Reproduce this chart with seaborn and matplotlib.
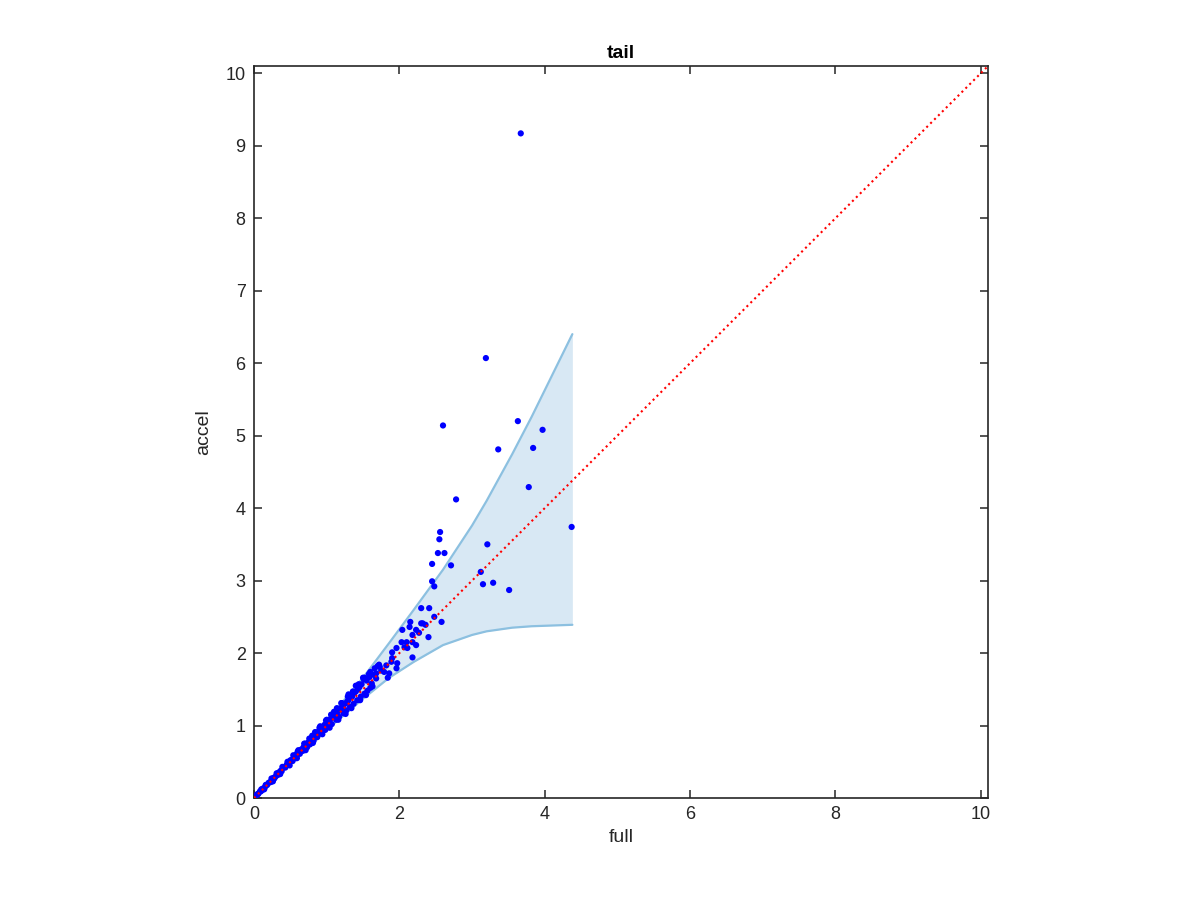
import matplotlib
matplotlib.use("Agg")
import matplotlib.pyplot as plt
import seaborn as sns
import pandas as pd

# Band (fill)
band_full = [0, 0.5, 1.0, 1.5, 1.86, 2.2, 2.6, 3.0, 3.2, 3.55, 3.82, 4.1, 4.38]
band_upper = [0, 0.53, 1.07, 1.66, 2.14, 2.6, 3.15, 3.76, 4.1, 4.74, 5.26, 5.83, 6.4]
band_lower = [0, 0.48, 0.94, 1.37, 1.66, 1.88, 2.11, 2.25, 2.3, 2.35, 2.37, 2.38, 2.39]

# Dense cluster near the diagonal
core_full = [0.02, 0.04, 0.06, 0.08, 0.10, 0.12, 0.15, 0.17, 0.20, 0.22, 0.25, 0.27, 0.30, 0.32, 0.35,
             0.37, 0.40, 0.42, 0.45, 0.48, 0.50, 0.52, 0.55, 0.58, 0.60, 0.62, 0.65, 0.68, 0.70, 0.72,
             0.75, 0.78, 0.80, 0.83, 0.85, 0.88, 0.90, 0.92, 0.95, 0.97, 1.00, 1.02, 1.05, 1.08, 1.10,
             1.12, 1.15, 1.18, 1.20, 1.22, 1.25, 1.28, 1.30, 1.33, 1.35, 1.38, 1.40, 1.43, 1.45, 1.48,
             0.05, 0.09, 0.13, 0.18, 0.23, 0.28, 0.33, 0.38, 0.43, 0.47, 0.53, 0.57, 0.63, 0.67, 0.73,
             0.77, 0.82, 0.87, 0.93, 0.98, 1.03, 1.07, 1.13, 1.17, 1.23, 1.27, 1.32, 1.37, 1.42, 1.47,
             1.52, 1.56, 1.60, 1.63,
             0.60, 0.70, 0.80, 0.90, 1.00, 1.10, 1.20, 1.30, 1.40, 1.50, 1.55, 1.60, 1.65, 1.70, 1.75,
             0.10, 0.16, 0.24, 0.31, 0.39, 0.46, 0.54, 0.61, 0.69, 0.76, 0.84, 0.91, 0.99, 1.06, 1.14,
             1.21, 1.29, 1.36, 1.44, 1.51, 1.58, 1.62, 1.68, 1.72,
             0.14, 0.26, 0.36, 0.49, 0.59, 0.71, 0.81, 0.94, 1.04, 1.16, 1.26, 1.34, 1.46, 1.54]
core_accel = [0.02, 0.05, 0.06, 0.09, 0.10, 0.13, 0.15, 0.18, 0.21, 0.22, 0.26, 0.28, 0.30, 0.34, 0.36,
              0.38, 0.42, 0.43, 0.46, 0.50, 0.52, 0.53, 0.57, 0.60, 0.61, 0.64, 0.67, 0.70, 0.71, 0.75,
              0.77, 0.80, 0.83, 0.85, 0.87, 0.91, 0.93, 0.95, 0.98, 1.01, 1.03, 1.05, 1.09, 1.12, 1.13,
              1.17, 1.19, 1.23, 1.24, 1.27, 1.30, 1.33, 1.35, 1.39, 1.40, 1.45, 1.47, 1.50, 1.53, 1.57,
              0.05, 0.09, 0.12, 0.18, 0.22, 0.27, 0.32, 0.37, 0.42, 0.46, 0.51, 0.55, 0.61, 0.65, 0.70,
              0.74, 0.79, 0.84, 0.89, 0.94, 0.99, 1.02, 1.08, 1.12, 1.17, 1.21, 1.26, 1.30, 1.35, 1.40,
              1.44, 1.48, 1.52, 1.54,
              0.64, 0.75, 0.86, 0.97, 1.08, 1.19, 1.31, 1.43, 1.55, 1.66, 1.62, 1.74, 1.70, 1.82, 1.76,
              0.12, 0.18, 0.27, 0.34, 0.43, 0.50, 0.59, 0.66, 0.75, 0.82, 0.91, 0.99, 1.07, 1.15, 1.24,
              1.31, 1.40, 1.47, 1.57, 1.64, 1.71, 1.58, 1.65, 1.84,
              0.12, 0.23, 0.33, 0.45, 0.55, 0.66, 0.76, 0.88, 0.97, 1.08, 1.16, 1.24, 1.35, 1.42]

# Spread-out points and outliers
outer_full = [1.59, 1.52, 1.84, 1.68, 1.86, 1.96, 1.79, 1.73, 1.66, 1.82, 1.97, 1.89, 1.90, 2.18,
              1.90, 2.11, 2.07, 1.96, 2.23, 2.18, 2.10, 2.03, 2.40, 2.18, 2.27, 2.04, 2.23, 2.32,
              2.14, 2.15, 2.58, 2.36, 2.30, 2.48, 2.41, 2.30, 2.48, 2.45, 3.51, 3.29, 3.15, 3.12,
              2.71, 2.45, 3.21, 2.62, 2.53, 2.55, 2.56, 4.37, 2.78, 3.78, 3.84, 3.36, 3.97, 3.63,
              2.60, 3.19, 3.67]
outer_accel = [1.67, 1.66, 1.66, 1.72, 1.72, 1.79, 1.74, 1.81, 1.79, 1.83, 1.86, 1.88, 1.93, 1.94,
               2.01, 2.07, 2.08, 2.07, 2.11, 2.15, 2.15, 2.15, 2.22, 2.25, 2.28, 2.32, 2.32, 2.41,
               2.36, 2.43, 2.43, 2.39, 2.41, 2.50, 2.62, 2.62, 2.92, 2.99, 2.87, 2.97, 2.95, 3.12,
               3.21, 3.23, 3.50, 3.38, 3.38, 3.57, 3.67, 3.74, 4.12, 4.29, 4.83, 4.81, 5.08, 5.20,
               5.14, 6.07, 9.17]

diag = [0, 10.1]

df = pd.DataFrame({"full": core_full + outer_full, "accel": core_accel + outer_accel})
band = pd.DataFrame({"full": band_full, "upper": band_upper, "lower": band_lower})
line = pd.DataFrame({"full": diag, "accel": diag})

sns.set_style("ticks")
plt.rcParams["font.family"] = ["Liberation Sans", "DejaVu Sans"]
plt.rcParams["xtick.direction"] = "in"
plt.rcParams["ytick.direction"] = "in"

fig = plt.figure(figsize=(12, 9), dpi=100)
ax = fig.add_axes([0.2117, 0.1133, 0.6117, 0.8134])

band_edge = "#8cc0e0"
ax.fill_between(band["full"], band["lower"], band["upper"], color="#d8e8f4", lw=0, zorder=1)
sns.lineplot(data=band, x="full", y="upper", color=band_edge, lw=1.6, ax=ax, zorder=2)
sns.lineplot(data=band, x="full", y="lower", color=band_edge, lw=1.6, ax=ax, zorder=2)

sns.scatterplot(data=df, x="full", y="accel", color="#0000ff", s=20, edgecolor="none",
                linewidth=0, ax=ax, zorder=3)
sns.lineplot(data=line, x="full", y="accel", color="red", lw=1.5, linestyle=":", ax=ax, zorder=4)

ax.set_xlim(0, 10.1)
ax.set_ylim(0, 10.1)
ax.set_xticks([0, 2, 4, 6, 8, 10])
ax.set_yticks(range(0, 11))
ax.tick_params(axis="both", which="both", direction="in", length=6, width=1.1,
               top=True, right=True, labelsize=13, colors="#262626", pad=6)
for sp in ax.spines.values():
    sp.set_visible(True)
    sp.set_color("#262626")
    sp.set_linewidth(1.2)

ax.set_xlabel("full", fontsize=14, color="#262626", labelpad=4)
ax.set_ylabel("accel", fontsize=14, color="#262626", labelpad=10)
ax.set_title("tail", fontsize=14, fontweight="bold", color="black", pad=6)

fig.savefig("out.png", dpi=100)
plt.close(fig)
